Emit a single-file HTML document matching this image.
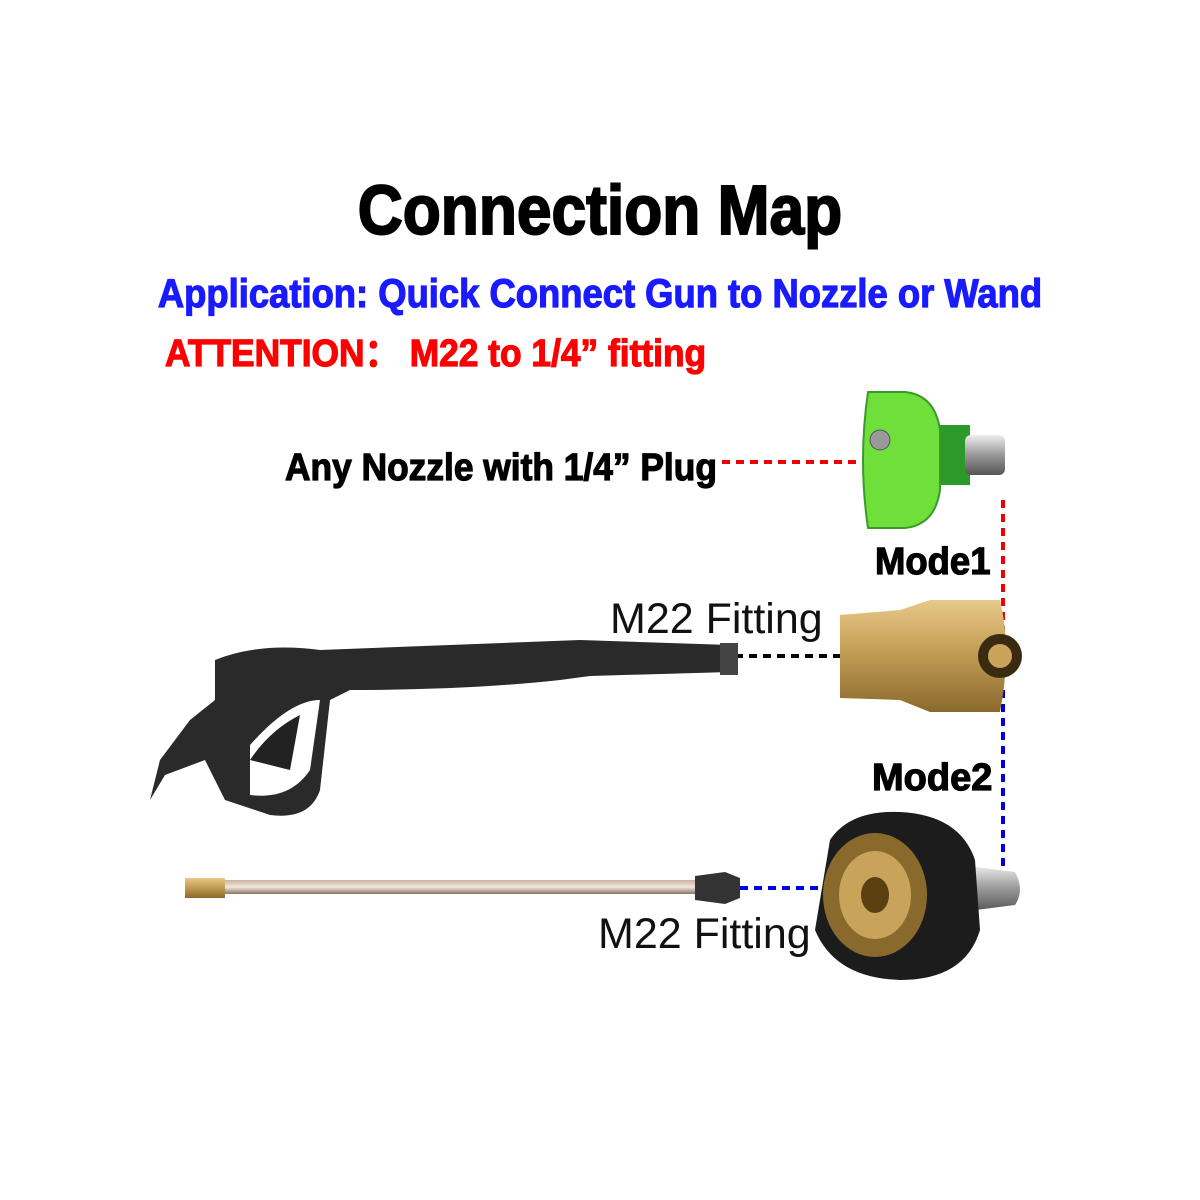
<!DOCTYPE html>
<html><head><meta charset="utf-8"><style>
html,body{margin:0;padding:0;background:#fff}
svg{display:block}
text{font-family:"Liberation Sans",sans-serif}
</style></head><body>
<svg width="1200" height="1200" viewBox="0 0 1200 1200">
<defs>
<linearGradient id="brass" x1="0" y1="0" x2="0" y2="1">
<stop offset="0" stop-color="#e8c98a"/><stop offset="0.4" stop-color="#c9a35a"/><stop offset="1" stop-color="#8a6a2c"/></linearGradient>
<linearGradient id="steel" x1="0" y1="0" x2="0" y2="1">
<stop offset="0" stop-color="#eee"/><stop offset="0.5" stop-color="#999"/><stop offset="1" stop-color="#555"/></linearGradient>
<linearGradient id="rod" x1="0" y1="0" x2="0" y2="1">
<stop offset="0" stop-color="#c9b3a3"/><stop offset="0.5" stop-color="#f2e6dc"/><stop offset="1" stop-color="#8a7466"/></linearGradient>
</defs>
<text x="600" y="234" text-anchor="middle" font-size="70" font-weight="bold" stroke="#000" stroke-width="2" transform="translate(600 0) scale(0.89 1) translate(-600 0)" fill="#000">Connection Map</text>
<text x="600" y="307" text-anchor="middle" font-size="40" font-weight="bold" fill="#1a1aff" stroke="#1a1aff" stroke-width="1.2" transform="translate(600 0) scale(0.91 1) translate(-600 0)">Application: Quick Connect  Gun to Nozzle or Wand</text>
<text x="165" y="366" font-size="38" font-weight="bold" fill="#f00" stroke="#f00" stroke-width="1.2" transform="translate(165 0) scale(0.93 1) translate(-165 0)">ATTENTION：  M22 to 1/4” fitting</text>
<text x="285" y="480" font-size="38" font-weight="bold" fill="#000" stroke="#000" stroke-width="1.2" transform="translate(285 0) scale(0.93 1) translate(-285 0)">Any Nozzle with 1/4” Plug</text>
<text x="875" y="574" font-size="38" font-weight="bold" fill="#000" stroke="#000" stroke-width="1.2" transform="translate(875 0) scale(0.96 1) translate(-875 0)">Mode1</text>
<text x="872" y="790" font-size="38" font-weight="bold" fill="#000" stroke="#000" stroke-width="1.2">Mode2</text>
<text x="610" y="633" font-size="43" fill="#111">M22 Fitting</text>
<text x="598" y="948" font-size="43" fill="#111">M22 Fitting</text>
<g stroke-width="4" stroke-dasharray="8 6" fill="none">
<line x1="722" y1="462" x2="858" y2="462" stroke="#e00"/>
<line x1="1003" y1="500" x2="1003" y2="640" stroke="#e00"/>
<line x1="735" y1="656" x2="860" y2="656" stroke="#000"/>
<line x1="1003" y1="690" x2="1003" y2="880" stroke="#00d"/>
<line x1="740" y1="888" x2="830" y2="888" stroke="#00d"/>
</g>
<rect x="940" y="425" width="30" height="60" fill="#2b9a2b"/>
<rect x="965" y="435" width="40" height="40" rx="6" fill="url(#steel)"/>
<path d="M868 392 L905 392 Q935 395 940 430 L940 490 Q935 525 905 528 L868 528 Q858 460 868 392Z" fill="#6fe03a" stroke="#3a9a2a" stroke-width="2"/>
<circle cx="880" cy="440" r="10" fill="#999" stroke="#555"/>
<path d="M840 615 L900 610 L930 600 L1000 600 Q1012 650 1000 712 L930 712 L900 700 L840 698 Z" fill="url(#brass)"/>
<circle cx="1000" cy="656" r="22" fill="#3a2a10"/><circle cx="1000" cy="656" r="12" fill="#c9a35a"/>
<path d="M215 660 Q260 642 320 650 L580 640 L730 645 L730 672 L590 676 L560 680 Q470 690 350 690 L330 700 L320 790 Q310 820 270 815 L225 800 L215 780 L205 760 L165 775 L150 800 L160 760 L190 720 L215 700 Z" fill="#2a2a2a"/>
<path d="M250 745 Q290 700 320 700 L310 770 Q290 800 250 795 Z" fill="#fff"/>
<path d="M250 760 Q270 730 300 715 L290 770 Z" fill="#222"/>
<rect x="720" y="643" width="18" height="32" fill="#444"/>
<rect x="185" y="878" width="40" height="20" fill="url(#brass)"/>
<rect x="225" y="880" width="470" height="14" fill="url(#rod)"/>
<path d="M695 876 L725 872 L740 878 L740 898 L725 904 L695 900Z" fill="#333"/>
<path d="M960 865 L1015 872 Q1025 890 1015 905 L960 912 Z" fill="url(#steel)"/>
<path d="M830 840 Q850 810 900 812 Q960 815 975 860 L980 930 Q965 980 900 980 Q835 978 815 930 Z" fill="#1c1c1c"/>
<ellipse cx="875" cy="895" rx="52" ry="62" fill="#8a6a2c"/>
<ellipse cx="875" cy="895" rx="36" ry="44" fill="#c9a35a"/>
<ellipse cx="875" cy="895" rx="14" ry="18" fill="#5a4010"/>
</svg>
</body></html>
